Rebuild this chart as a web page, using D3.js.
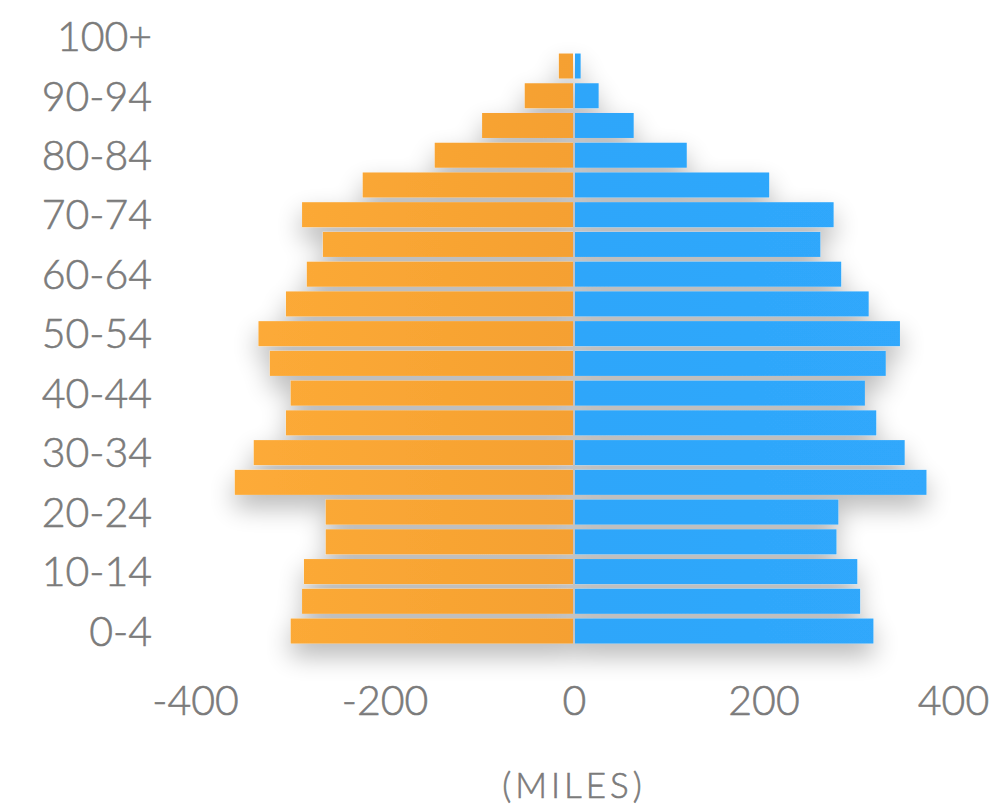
<!DOCTYPE html>
<html>
<head>
<meta charset="utf-8">
<script src="https://cdn.jsdelivr.net/npm/d3@7"></script>
<style>
  html, body { margin: 0; padding: 0; background: #ffffff; }
  svg { display: block; }
</style>
</head>
<body>
<svg id="chart" width="1000" height="810"></svg>
<script>
// Age groups, bottom (youngest) to top (oldest)
const ageGroups = ["0-4","5-9","10-14","15-19","20-24","25-29","30-34","35-39","40-44","45-49",
                   "50-54","55-59","60-64","65-69","70-74","75-79","80-84","85-89","90-94","95-99","100+"];
// Left side (orange) values, drawn as negatives
const leftValues  = [299, 287, 285, 262, 262, 358, 338, 304, 299, 321, 333, 304, 282, 265, 287, 223, 147, 97, 52, 16, 1];
// Right side (blue) values
const rightValues = [316, 302, 299, 277, 279, 372, 349, 319, 307, 329, 344, 311, 282, 260, 274, 206, 119, 63, 26, 7, 1];
const xTicks = [-400, -200, 0, 200, 400];
const yTickLabels = ["0-4","10-14","20-24","30-34","40-44","50-54","60-64","70-74","80-84","90-94","100+"];
const axisTitle = "(MILES)";

const svg = d3.select("#chart");
const defs = svg.append("defs");

const shadow = defs.append("filter").attr("id", "shadow")
  .attr("x", "-20%").attr("y", "-20%").attr("width", "140%").attr("height", "160%");
shadow.append("feGaussianBlur").attr("in", "SourceAlpha").attr("stdDeviation", 13);
shadow.append("feOffset").attr("dx", 0).attr("dy", 12).attr("result", "ob");
shadow.append("feComponentTransfer").append("feFuncA").attr("type", "linear").attr("slope", 0.3);
const merge = shadow.append("feMerge");
merge.append("feMergeNode");
merge.append("feMergeNode").attr("in", "SourceGraphic");

const gO = defs.append("linearGradient").attr("id", "gradO")
  .attr("gradientUnits", "userSpaceOnUse").attr("x1", 230).attr("y1", 0).attr("x2", 574).attr("y2", 0);
gO.append("stop").attr("offset", "0%").attr("stop-color", "#fdab38");
gO.append("stop").attr("offset", "100%").attr("stop-color", "#f5a030");
const gB = defs.append("linearGradient").attr("id", "gradB")
  .attr("gradientUnits", "userSpaceOnUse").attr("x1", 574).attr("y1", 0).attr("x2", 930).attr("y2", 0);
gB.append("stop").attr("offset", "0%").attr("stop-color", "#2ea6fa");
gB.append("stop").attr("offset", "100%").attr("stop-color", "#30a8fc");

const x = d3.scaleLinear().domain([-400, 400]).range([195, 953]);
const y = d3.scaleBand()
  .domain(ageGroups.slice().reverse())
  .range([21.4, 645.9])
  .paddingInner(0.16)
  .paddingOuter(0.08);

const data = ageGroups.map((a, i) => ({ age: a, left: leftValues[i], right: rightValues[i] }));

const bars = svg.append("g").attr("filter", "url(#shadow)");
bars.selectAll("rect.left").data(data).join("rect")
  .attr("class", "left")
  .attr("x", d => x(-d.left))
  .attr("y", d => y(d.age))
  .attr("width", d => Math.max(0, x(0) - 1 - x(-d.left)))
  .attr("height", y.bandwidth())
  .attr("fill", "url(#gradO)");
bars.selectAll("rect.right").data(data).join("rect")
  .attr("class", "right")
  .attr("x", x(0) + 1)
  .attr("y", d => y(d.age))
  .attr("width", d => Math.max(0, x(d.right) - x(0) - 1))
  .attr("height", y.bandwidth())
  .attr("fill", "url(#gradB)");

const font = "Lato, 'Noto Sans', sans-serif";
const grey = "#7b7b7b";

function styleText(sel, size) {
  sel.attr("font-family", font).attr("font-size", size).attr("font-weight", 300)
    .attr("fill", grey).attr("stroke", grey).attr("stroke-width", 0.6);
}

// Y axis (age labels)
const yAxis = svg.append("g").attr("transform", "translate(152,0)")
  .call(d3.axisLeft(y).tickValues(yTickLabels).tickSize(0).tickPadding(0));
yAxis.select(".domain").remove();
yAxis.selectAll("text").call(styleText, 41).attr("dy", "0.36em");

// X axis
const xAxis = svg.append("g").attr("transform", "translate(0,700)")
  .call(d3.axisBottom(x).tickValues(xTicks).tickSize(0).tickPadding(0).tickFormat(d => String(d)));
xAxis.select(".domain").remove();
xAxis.selectAll("text").call(styleText, 41).attr("dy", "0.36em").attr("y", 0);

svg.append("text")
  .attr("x", x(0)).attr("y", 785)
  .attr("text-anchor", "middle")
  .attr("dy", "0.36em")
  .call(styleText, 35)
  .attr("letter-spacing", 4)
  .text(axisTitle);
</script>
</body>
</html>
